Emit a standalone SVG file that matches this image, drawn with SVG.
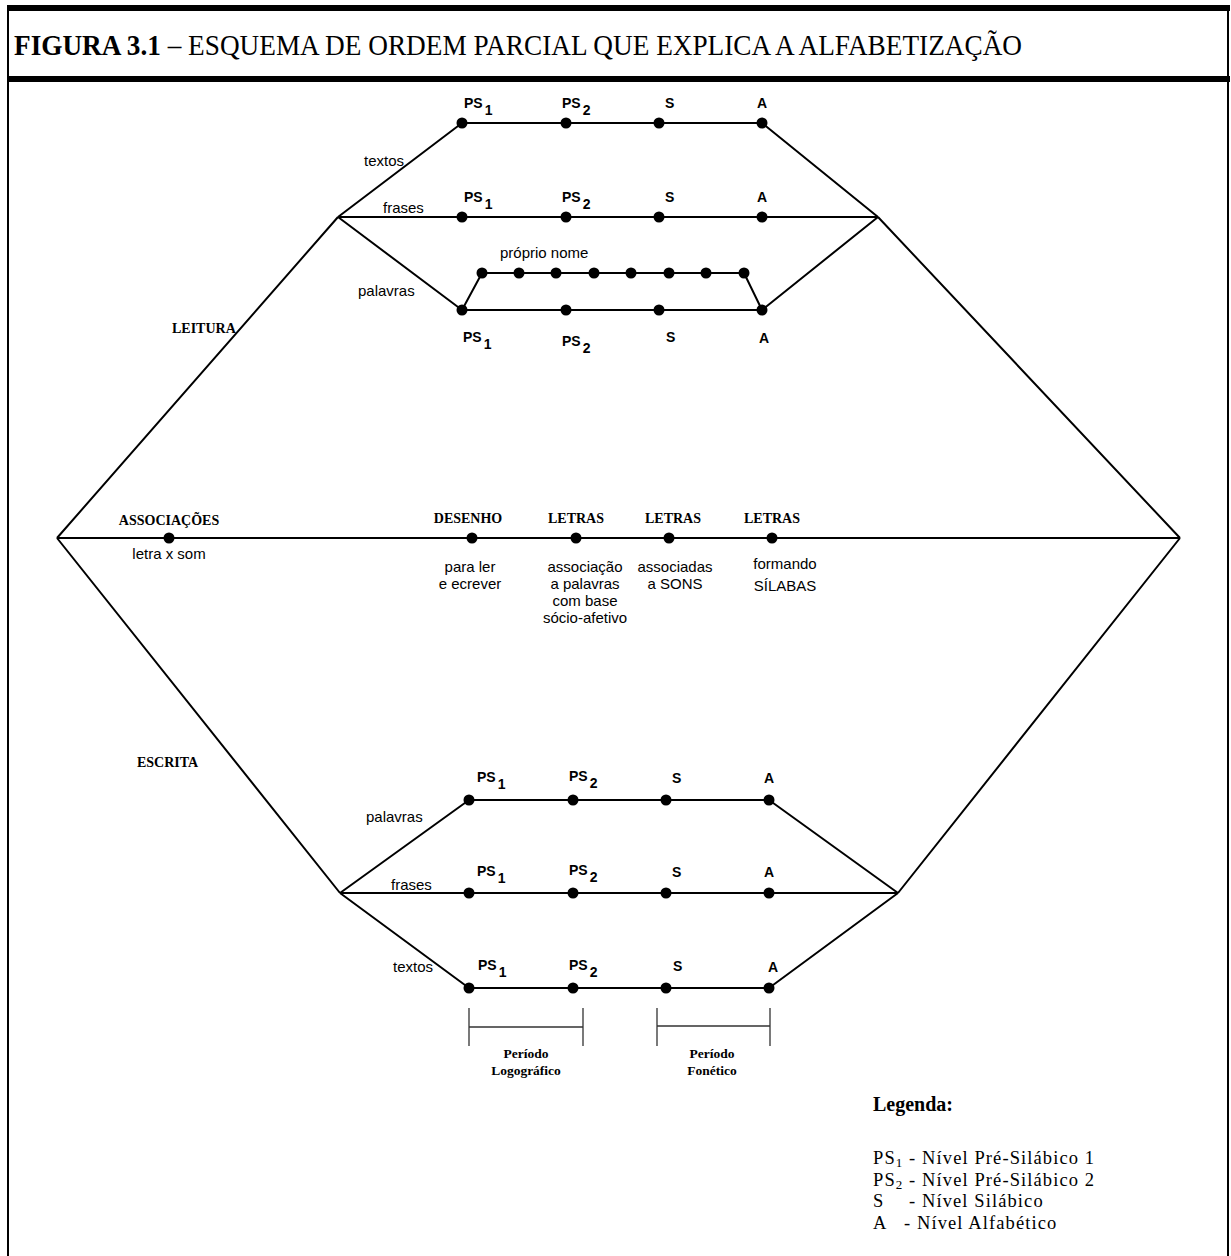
<svg xmlns="http://www.w3.org/2000/svg" width="1231" height="1256" viewBox="0 0 1231 1256">
<style>
.bg{fill:#fff}
.frame{stroke:#000;stroke-width:2;fill:none}
.bar{fill:#000}
.ln{stroke:#000;stroke-width:2;fill:none;stroke-linejoin:round}
.br{stroke:#333;stroke-width:1.3;fill:none}
.dot{fill:#000}
.title{font-family:"Liberation Serif","Times New Roman",serif;font-size:30px;fill:#000}
.lv{font-family:"Liberation Sans",Arial,sans-serif;font-size:14px;font-weight:bold;fill:#000}
.lb{font-family:"Liberation Sans",Arial,sans-serif;font-size:15px;fill:#000}
.cap{font-family:"Liberation Serif","Times New Roman",serif;font-size:14px;font-weight:bold;fill:#000}
.per{font-family:"Liberation Serif","Times New Roman",serif;font-size:13.5px;font-weight:bold;fill:#000}
.leg{font-family:"Liberation Serif","Times New Roman",serif;font-size:18.5px;letter-spacing:1.1px;fill:#000}
.legh{font-family:"Liberation Serif","Times New Roman",serif;font-size:20px;font-weight:bold;fill:#000}
.mid{text-anchor:middle}
</style>
<rect class="bg" x="0" y="0" width="1231" height="1256"/>
<g id="frame">
<line class="frame" x1="8" y1="6" x2="8" y2="1256"/>
<line class="frame" x1="1228" y1="6" x2="1228" y2="1256"/>
<rect class="bar" x="7" y="5" width="1223" height="6"/>
<rect class="bar" x="7" y="76" width="1223" height="6"/>
<text class="title" x="14" y="55" textLength="1008" lengthAdjust="spacingAndGlyphs"><tspan font-weight="bold">FIGURA 3.1</tspan> – ESQUEMA DE ORDEM PARCIAL QUE EXPLICA A ALFABETIZAÇÃO</text>
</g>
<g id="connectors">
<path class="ln" d="M57,538 L338,217 M878,217 L1180,538 M57,538 L340,893 M898,893 L1180,538 M57,538 H1180"/>
<path class="ln" d="M338,217 L462,123 H762 L878,217 M338,217 H878 M338,217 L462,310 H762 L878,217 M462,310 L482,273 H744 L762,310"/>
<path class="ln" d="M340,893 L469,800 H769 L898,893 M340,893 H898 M340,893 L469,988 H769 L898,893"/>
</g>
<g id="leitura">
<text class="cap" x="172" y="333">LEITURA</text>
<text class="lb" x="364" y="166">textos</text>
<text class="lb" x="383" y="213">frases</text>
<text class="lb" x="358" y="296">palavras</text>
<text class="lb" x="500" y="258">próprio nome</text>
</g>
<g id="leitura-textos">
<circle class="dot" cx="462" cy="123" r="5.5"/><circle class="dot" cx="566" cy="123" r="5.5"/><circle class="dot" cx="659" cy="123" r="5.5"/><circle class="dot" cx="762" cy="123" r="5.5"/>
<text class="lv" x="464" y="108">PS<tspan dx="2" dy="7">1</tspan></text>
<text class="lv" x="562" y="108">PS<tspan dx="2" dy="7">2</tspan></text>
<text class="lv" x="665" y="108">S</text>
<text class="lv" x="757" y="108">A</text>
</g>
<g id="leitura-frases">
<circle class="dot" cx="462" cy="217" r="5.5"/><circle class="dot" cx="566" cy="217" r="5.5"/><circle class="dot" cx="659" cy="217" r="5.5"/><circle class="dot" cx="762" cy="217" r="5.5"/>
<text class="lv" x="464" y="202">PS<tspan dx="2" dy="7">1</tspan></text>
<text class="lv" x="562" y="202">PS<tspan dx="2" dy="7">2</tspan></text>
<text class="lv" x="665" y="202">S</text>
<text class="lv" x="757" y="202">A</text>
</g>
<g id="leitura-palavras">
<circle class="dot" cx="462" cy="310" r="5.5"/><circle class="dot" cx="566" cy="310" r="5.5"/><circle class="dot" cx="659" cy="310" r="5.5"/><circle class="dot" cx="762" cy="310" r="5.5"/>
<text class="lv" x="463" y="342">PS<tspan dx="2" dy="7">1</tspan></text>
<text class="lv" x="562" y="346">PS<tspan dx="2" dy="7">2</tspan></text>
<text class="lv" x="666" y="342">S</text>
<text class="lv" x="759" y="343">A</text>
</g>
<g id="proprio-nome">
<circle class="dot" cx="482" cy="273" r="5.5"/><circle class="dot" cx="519" cy="273" r="5.5"/><circle class="dot" cx="556" cy="273" r="5.5"/><circle class="dot" cx="594" cy="273" r="5.5"/><circle class="dot" cx="631" cy="273" r="5.5"/><circle class="dot" cx="669" cy="273" r="5.5"/><circle class="dot" cx="706" cy="273" r="5.5"/><circle class="dot" cx="744" cy="273" r="5.5"/>
</g>
<g id="associacoes">
<circle class="dot" cx="169" cy="538" r="5.5"/>
<text class="cap mid" x="169" y="525">ASSOCIAÇÕES</text>
<text class="lb mid" x="169" y="559">letra x som</text>
</g>
<g id="desenho">
<circle class="dot" cx="472" cy="538" r="5.5"/>
<text class="cap mid" x="468" y="523">DESENHO</text>
<text class="lb mid" x="470" y="572">para ler</text>
<text class="lb mid" x="470" y="589">e ecrever</text>
</g>
<g id="letras1">
<circle class="dot" cx="576" cy="538" r="5.5"/>
<text class="cap mid" x="576" y="523">LETRAS</text>
<text class="lb mid" x="585" y="572">associação</text>
<text class="lb mid" x="585" y="589">a palavras</text>
<text class="lb mid" x="585" y="606">com base</text>
<text class="lb mid" x="585" y="623">sócio-afetivo</text>
</g>
<g id="letras2">
<circle class="dot" cx="669" cy="538" r="5.5"/>
<text class="cap mid" x="673" y="523">LETRAS</text>
<text class="lb mid" x="675" y="572">associadas</text>
<text class="lb mid" x="675" y="589">a SONS</text>
</g>
<g id="letras3">
<circle class="dot" cx="772" cy="538" r="5.5"/>
<text class="cap mid" x="772" y="523">LETRAS</text>
<text class="lb mid" x="785" y="569">formando</text>
<text class="lb mid" x="785" y="591">SÍLABAS</text>
</g>
<g id="escrita">
<text class="cap" x="137" y="767">ESCRITA</text>
<text class="lb" x="366" y="822">palavras</text>
<text class="lb" x="391" y="890">frases</text>
<text class="lb" x="393" y="972">textos</text>
</g>
<g id="escrita-palavras">
<circle class="dot" cx="469" cy="800" r="5.5"/><circle class="dot" cx="573" cy="800" r="5.5"/><circle class="dot" cx="666" cy="800" r="5.5"/><circle class="dot" cx="769" cy="800" r="5.5"/>
<text class="lv" x="477" y="782">PS<tspan dx="2" dy="7">1</tspan></text>
<text class="lv" x="569" y="781">PS<tspan dx="2" dy="7">2</tspan></text>
<text class="lv" x="672" y="783">S</text>
<text class="lv" x="764" y="783">A</text>
</g>
<g id="escrita-frases">
<circle class="dot" cx="469" cy="893" r="5.5"/><circle class="dot" cx="573" cy="893" r="5.5"/><circle class="dot" cx="666" cy="893" r="5.5"/><circle class="dot" cx="769" cy="893" r="5.5"/>
<text class="lv" x="477" y="876">PS<tspan dx="2" dy="7">1</tspan></text>
<text class="lv" x="569" y="875">PS<tspan dx="2" dy="7">2</tspan></text>
<text class="lv" x="672" y="877">S</text>
<text class="lv" x="764" y="877">A</text>
</g>
<g id="escrita-textos">
<circle class="dot" cx="469" cy="988" r="5.5"/><circle class="dot" cx="573" cy="988" r="5.5"/><circle class="dot" cx="666" cy="988" r="5.5"/><circle class="dot" cx="769" cy="988" r="5.5"/>
<text class="lv" x="478" y="970">PS<tspan dx="2" dy="7">1</tspan></text>
<text class="lv" x="569" y="970">PS<tspan dx="2" dy="7">2</tspan></text>
<text class="lv" x="673" y="971">S</text>
<text class="lv" x="768" y="972">A</text>
</g>
<g id="periodo-logografico">
<path class="br" d="M469,1008 V1046 M583,1008 V1046 M469,1027 H583"/>
<text class="per mid" x="526" y="1058">Período</text>
<text class="per mid" x="526" y="1075">Logográfico</text>
</g>
<g id="periodo-fonetico">
<path class="br" d="M657,1008 V1046 M770,1008 V1046 M657,1026 H770"/>
<text class="per mid" x="712" y="1058">Período</text>
<text class="per mid" x="712" y="1075">Fonético</text>
</g>
<g id="legenda">
<text class="legh" x="873" y="1111">Legenda:</text>
<text class="leg" x="873" y="1164">PS<tspan font-size="13" dy="3">1</tspan><tspan dy="-3"> - Nível Pré-Silábico 1</tspan></text>
<text class="leg" x="873" y="1186">PS<tspan font-size="13" dy="3">2</tspan><tspan dy="-3"> - Nível Pré-Silábico 2</tspan></text>
<text class="leg" x="873" y="1207">S<tspan x="909">- Nível Silábico</tspan></text>
<text class="leg" x="873" y="1229">A<tspan x="904">- Nível Alfabético</tspan></text>
</g>
</svg>
